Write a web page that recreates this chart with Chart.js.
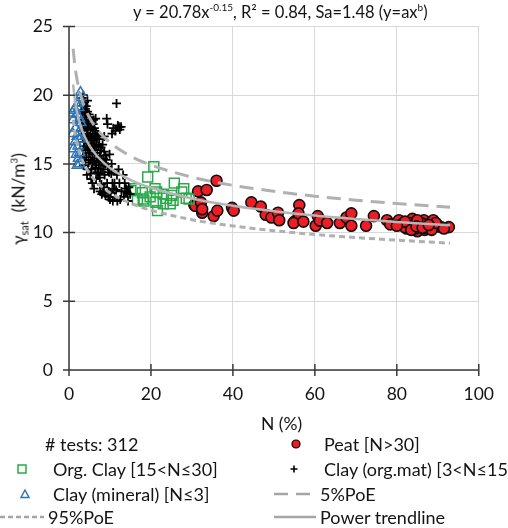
<!DOCTYPE html>
<html>
<head>
<meta charset="utf-8">
<script src="https://cdn.jsdelivr.net/npm/chart.js@4.4.1/dist/chart.umd.min.js"></script>
<style>
  html,body{margin:0;padding:0;background:#fff;}
  #wrap{position:relative;width:508px;height:528px;overflow:hidden;font-family:Lato,"Open Sans",sans-serif;color:#141414;}
  #c{position:absolute;left:0;top:0;}
  .t{position:absolute;white-space:nowrap;font-size:18px;line-height:20px;}
  sup{font-size:10px;vertical-align:7px;line-height:0;}
  sub{font-size:11px;vertical-align:-4px;line-height:0;}
  #ytitle{position:absolute;left:18px;top:199px;transform:translate(-50%,-50%) rotate(-90deg);white-space:nowrap;font-size:17.5px;}
  #leg{position:absolute;left:0;top:0;}
</style>
</head>
<body>
<div id="wrap">
  <canvas id="c" width="508" height="528"></canvas>
  <div class="t" id="title" style="left:133px;top:2px;font-size:16.5px;">y = 20.78x<sup>-0.15</sup>, R² = 0.84, Sa=1.48 (y=ax<sup>b</sup>)</div>
  <div id="ytitle">γ<sub>sat</sub>&nbsp; (kN/m<sup>3</sup>)</div>
  <div class="t" style="left:261px;top:414px;font-size:17.5px;">N (%)</div>
  <svg id="leg" width="508" height="528">
    <circle cx="296" cy="444" r="4" fill="#ee1c24" stroke="#000" stroke-width="1.2"/>
    <rect x="18" y="465" width="8" height="8" fill="none" stroke="#2aa84a" stroke-width="1.5"/>
    <path d="M290.5 469 h7 M294 465.5 v7" stroke="#000" stroke-width="1.6"/>
    <path d="M25 490 L29 497.5 L21 497.5 Z" fill="none" stroke="#2e75b6" stroke-width="1.5"/>
    <path d="M274 494 H316" stroke="#a6a6a6" stroke-width="2.5" stroke-dasharray="14,8"/>
    <path d="M0 517 H44" stroke="#a6a6a6" stroke-width="2.5" stroke-dasharray="5,3"/>
    <path d="M274 517 H316" stroke="#a6a6a6" stroke-width="2.5"/>
  </svg>
  <div class="t" style="left:45px;top:434px;">#&nbsp;tests: 312</div>
  <div class="t" style="left:324px;top:434px;">Peat [N&gt;30]</div>
  <div class="t" style="left:53px;top:459px;">Org. Clay [15&lt;N≤30]</div>
  <div class="t" style="left:324px;top:459px;">Clay (org.mat) [3&lt;N≤15]</div>
  <div class="t" style="left:53px;top:484px;">Clay (mineral) [N≤3]</div>
  <div class="t" style="left:320px;top:484px;">5%PoE</div>
  <div class="t" style="left:48px;top:507px;">95%PoE</div>
  <div class="t" style="left:320px;top:507px;">Power trendline</div>
</div>
<script>
// ---- Data ----
const peatX = [30.6,30.8,31.5,32.2,32.5,32.5,33.6,36.0,35.3,36.2,39.8,40.2,44.5,46.8,48.0,49.4,51.0,51.3,55.0,56.2,56.0,54.8,57.2,60.7,60.2,61.2,63.0,66.1,67.7,68.9,68.9,72.5,74.4,77.6,78.4,80.5,81.4,82.4,83.8,84.2,85.0,85.6,86.6,86.8,88.0,88.9,89.2,90.1,90.8,92.7,83.0,81.9,84.5,87.5,86.0,82.0,85.0,88.5,83.5,80.0,89.5,91.5,84.8,86.3,87.8];
const peatY = [12.0,11.95,13.0,12.2,11.45,11.7,13.1,13.77,11.2,11.6,11.8,11.6,12.2,11.9,11.3,11.1,11.45,10.9,10.8,12.0,11.4,10.7,10.8,11.2,10.5,10.87,10.7,10.7,11.1,11.4,10.5,10.5,11.2,10.9,10.6,10.9,10.65,10.3,11.0,10.65,10.1,10.5,10.9,10.2,10.65,10.9,10.4,10.5,10.4,10.4,10.7,10.4,10.3,10.3,10.7,10.8,10.9,10.2,10.2,10.5,10.7,10.3,10.45,10.35,10.55];

const orgClayX = [20.7,19.2,15.1,16.2,17.9,16.7,18.3,19.8,21.0,21.2,21.6,23.0,23.8,25.7,25.4,27.5,28.0,28.6,29.3,25.0,18.1,24.7,23.0,21.4];
const orgClayY = [14.8,14.05,13.05,13.2,12.9,12.4,12.3,12.6,13.2,12.2,11.6,12.1,12.5,13.6,12.35,12.95,13.2,12.5,12.45,12.7,12.45,12.1,12.8,12.95];

const clayOrgX = [3.2,3.5,3.3,3.8,3.4,3.9,3.2,3.7,3.5,4.0,3.3,3.8,3.6,4.0,3.4,3.9,3.5,4.0,3.6,
 4.2,4.5,4.3,4.8,4.1,4.6,4.4,4.9,4.2,4.7,4.5,4.9,4.3,4.8,4.6,4.4,4.9,4.1,4.7,
 5.1,5.5,5.3,5.8,5.2,5.6,5.4,5.9,5.1,5.7,5.3,5.8,5.5,5.2,5.7,5.4,5.9,6.0,
 6.2,6.5,6.4,6.8,6.1,6.6,6.3,6.9,6.2,6.7,6.4,6.9,6.1,6.6,6.8,6.3,
 7.1,7.4,7.2,7.7,7.5,7.9,7.3,7.8,7.5,7.2,7.9,7.6,8.0,7.4,7.8,
 8.2,8.6,8.4,8.8,8.3,8.7,8.5,8.9,8.2,8.6,8.9,
 9.2,9.4,9.1,9.5,9.8,9.3,9.7,9.6,9.9,10.0,
 10.5,10.8,10.3,10.6,10.9,10.2,10.7,10.4,
 11.3,11.6,11.9,11.1,11.5,11.8,11.2,11.7,
 12.2,12.7,12.4,12.3,12.8,12.5,12.1,
 13.2,13.6,13.9,14.2,14.6,14.9,13.4,14.4,13.7,3.0,3.1,4.4,5.0,6.0,3.7,4.5];
const clayOrgY = [19.8,20.0,19.2,19.5,18.8,18.6,18.2,18.0,17.5,17.8,17.1,16.8,16.3,16.0,15.6,15.3,14.9,19.0,19.3,
 19.2,18.8,18.4,18.2,17.9,17.6,17.2,17.0,16.7,16.5,16.1,15.8,15.5,15.1,14.6,14.2,18.6,18.7,17.9,
 18.4,18.1,17.7,17.5,17.1,16.9,16.5,16.3,16.0,15.7,15.3,15.0,14.6,14.3,13.6,13.9,17.9,18.2,
 17.6,18.3,17.2,17.0,16.7,16.4,16.0,15.8,15.4,15.1,14.7,14.4,13.2,13.9,16.8,17.4,
 17.1,16.8,16.3,16.0,15.6,15.3,14.9,14.6,14.0,14.3,13.5,13.0,12.8,15.2,16.2,
 16.4,15.9,15.4,15.0,14.6,14.2,13.3,12.7,12.9,17.0,15.6,
 18.3,17.9,15.3,14.8,14.4,13.6,13.0,12.6,15.7,12.4,
 17.2,17.6,14.3,13.6,13.2,12.9,12.3,15.0,
 17.4,19.4,17.8,13.6,13.1,12.3,12.6,14.2,
 17.7,17.7,17.5,13.6,13.0,12.4,14.6,
 14.2,13.6,13.2,12.9,13.3,12.8,12.6,12.3,13.0,18.9,17.4,17.5,16.2,15.2,16.6,19.6];

const clayMinX = [2.8,2.6,2.2,1.4,0.8,2.0,2.6,1.0,2.9,1.6,2.4,0.9,2.0,2.7,1.5,2.2,1.1,2.6,1.8,2.3,2.6,2.0,1.2,2.4];
const clayMinY = [20.2,19.8,19.4,19.0,18.7,18.6,18.3,18.2,18.0,17.6,17.3,17.2,17.0,16.8,16.6,16.3,16.1,15.8,15.7,15.4,15.0,14.9,18.9,19.1];

// trend / probability-of-exceedance curves (y = 20.78 x^-0.15 as read)
const curveX   = [1,1.5,2,3,4,5,7,10,15,20,30,40,50,60,70,80,93];
const trendY   = [20.78,19.55,18.73,17.62,16.88,16.32,15.52,14.71,13.84,13.26,12.48,11.95,11.56,11.24,10.99,10.77,10.53];
const poe5Y    = [23.38,21.99,21.07,19.82,18.99,18.36,17.46,16.55,15.57,14.92,14.04,13.44,13.01,12.65,12.36,12.12,11.85];
const poe95Y   = [18.22,17.15,16.43,15.45,14.80,14.31,13.61,12.90,12.14,11.63,10.94,10.48,10.14,9.86,9.64,9.45,9.23];

const xTicks = [0,20,40,60,80,100];
const yTicks = [0,5,10,15,20,25];

const pts = (xs, ys) => xs.map((x, i) => ({x, y: ys[i]}));

const crossTicks = {
  id: 'crossTicks',
  afterDatasetsDraw(chart) {
    const ctx = chart.ctx, xs = chart.scales.x, ys = chart.scales.y;
    const x0 = xs.getPixelForValue(0), y0 = ys.getPixelForValue(0);
    ctx.save();
    ctx.strokeStyle = '#3a3a3a';
    ctx.lineWidth = 1.5;
    ctx.beginPath();
    yTicks.forEach(v => { const p = ys.getPixelForValue(v); ctx.moveTo(x0 - 6, p); ctx.lineTo(x0 + 6, p); });
    xTicks.forEach(v => { const p = xs.getPixelForValue(v); ctx.moveTo(p, y0 - 6); ctx.lineTo(p, y0 + 6); });
    ctx.moveTo(x0, ys.getPixelForValue(25)); ctx.lineTo(x0, y0);
    ctx.moveTo(x0, y0); ctx.lineTo(xs.getPixelForValue(100), y0);
    ctx.stroke();
    ctx.restore();
  }
};

const lineDs = (label, data, dash, width, color) => ({
  label, data, showLine: true, pointRadius: 0, borderColor: color, borderWidth: width,
  borderDash: dash, fill: false, cubicInterpolationMode: 'monotone', order: 0
});

new Chart(document.getElementById('c'), {
  type: 'scatter',
  data: {
    datasets: [
      lineDs('Power trendline', pts(curveX, trendY), [], 2.5, '#b5b5b5'),
      lineDs('5%PoE', pts(curveX, poe5Y), [14, 8], 3, '#b0b0b0'),
      lineDs('95%PoE', pts(curveX, poe95Y), [6, 4], 3, '#b0b0b0'),
      { label: 'Clay (mineral) [N≤3]', data: pts(clayMinX, clayMinY), pointStyle: 'triangle', pointRadius: 5.8,
        backgroundColor: 'rgba(255,255,255,0)', borderColor: '#2e75b6', borderWidth: 1.5, order: 1 },
      { label: 'Clay (org.mat) [3<N≤15]', data: pts(clayOrgX, clayOrgY), pointStyle: 'cross', pointRadius: 4.5,
        borderColor: '#000', borderWidth: 1.8, order: 2 },
      { label: 'Org. Clay [15<N≤30]', data: pts(orgClayX, orgClayY), pointStyle: 'rect', pointRadius: 7,
        backgroundColor: 'rgba(255,255,255,0)', borderColor: '#2aa84a', borderWidth: 1.5, order: 3 },
      { label: 'Peat [N>30]', data: pts(peatX, peatY), pointStyle: 'circle', pointRadius: 5.5,
        backgroundColor: '#ee1c24', borderColor: '#111', borderWidth: 1.6, order: 4 }
    ]
  },
  options: {
    responsive: false, animation: false, events: [],
    layout: { padding: { top: 25, right: 15, bottom: 118, left: 0 } },
    plugins: { legend: { display: false }, tooltip: { enabled: false }, title: { display: false } },
    scales: {
      x: {
        type: 'linear', min: 0, max: 100,
        afterBuildTicks: s => { s.ticks = xTicks.map(v => ({ value: v })); },
        afterFit: s => { s.height = 40; },
        grid: { color: '#d9d9d9', lineWidth: 1, drawTicks: false },
        border: { display: false },
        ticks: { padding: 14, color: '#141414', font: { family: 'Lato', size: 17.5 } }
      },
      y: {
        type: 'linear', min: 0, max: 25,
        afterBuildTicks: s => { s.ticks = yTicks.map(v => ({ value: v })); },
        afterFit: s => { s.width = 69; },
        grid: { color: '#d9d9d9', lineWidth: 1, drawTicks: false },
        border: { display: false },
        ticks: { padding: 16, color: '#141414', font: { family: 'Lato', size: 17.5 } }
      }
    }
  },
  plugins: [crossTicks]
});
</script>
</body>
</html>
